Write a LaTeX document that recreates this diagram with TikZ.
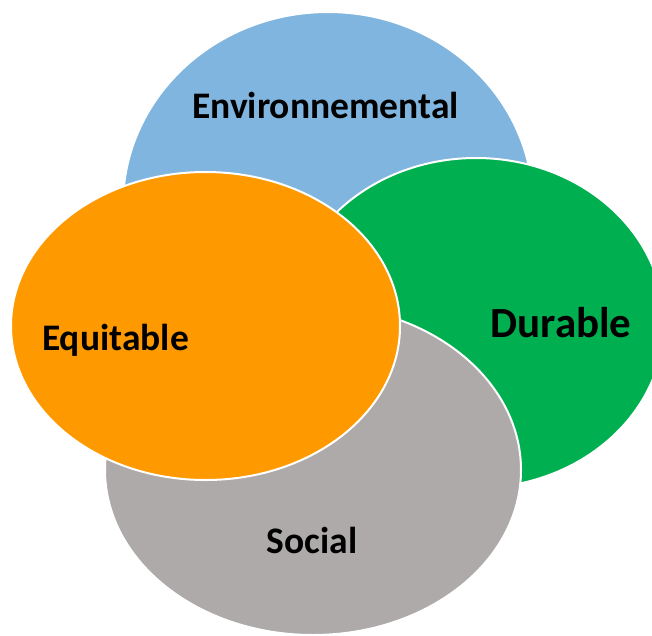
\documentclass[tikz,border=0pt]{standalone}
\usepackage{fontspec}
\setmainfont{Carlito}
\usetikzlibrary{calc}
\definecolor{envblue}{HTML}{7FB5DE}
\definecolor{durgreen}{HTML}{00B050}
\definecolor{soggray}{HTML}{AEAAAA}
\definecolor{equorange}{HTML}{FF9900}
\tikzset{
  blob/.style={draw=white,line width=2pt},
  lbl/.style={anchor=base,font=\fontsize{37.5}{40}\selectfont\bfseries,inner sep=0pt}
}

\begin{document}
\begin{tikzpicture}[x=1pt,y=-1pt]
\useasboundingbox (0,0) rectangle (652,635);
\clip (0,0) rectangle (652,635);
\filldraw[blob,fill=envblue] (328,205) ellipse (205 and 193);
\filldraw[blob,fill=durgreen] (476,323) ellipse (188 and 165);
\filldraw[blob,fill=soggray] (313,470) ellipse (208 and 165);
\filldraw[blob,fill=equorange] (205.5,326) ellipse (194.5 and 154);
\node[lbl] (env) at (325.5,118) {Environnemental};
\node[lbl] (equ) at (115.5,350) {Equitable};
\node[lbl,font=\fontsize{43}{46}\selectfont\bfseries] (dur) at (561,337) {Durable};
\node[lbl] (soc) at (312,553) {Social};
\end{tikzpicture}
\end{document}
